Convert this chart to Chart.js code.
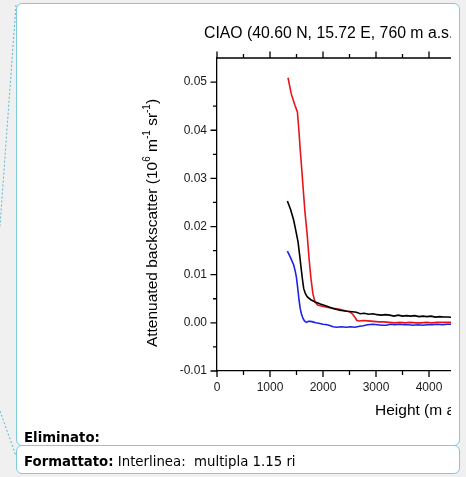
<!DOCTYPE html>
<html>
<head>
<meta charset="utf-8">
<script src="https://cdn.jsdelivr.net/npm/chart.js@4.4.1/dist/chart.umd.min.js"></script>
<style>
  html, body { margin: 0; padding: 0; background: #f0f0f0; width: 466px; height: 477px; overflow: hidden; }
  .balloon { position: absolute; box-sizing: border-box; border: 1.5px solid #7ccbdf; border-radius: 6px; background: #fff; }
  #box1 { left: 16px; top: 3px; width: 444px; height: 443px; }
  #box2 { left: 16px; top: 445px; width: 444px; height: 29px; }
  #clip { position: absolute; left: 17px; top: 4px; width: 434px; height: 440px; overflow: hidden; }
  #chart { position: absolute; left: -17px; top: -4px; }
  .note { position: absolute; left: 24px; font-family: "DejaVu Sans", Verdana, sans-serif; font-size: 13.3px; line-height: 16px; color: #000; white-space: nowrap; }
  #links { position: absolute; left: 0; top: 0; }
</style>
</head>
<body>
<svg id="links" width="466" height="477">
  <line x1="16" y1="5" x2="0" y2="226" stroke="#5ab6d2" stroke-width="1" stroke-dasharray="2 2"/>
  <line x1="0" y1="411" x2="16" y2="456" stroke="#5ab6d2" stroke-width="1" stroke-dasharray="2 2"/>
</svg>
<div id="box1" class="balloon"></div>
<div id="box2" class="balloon"></div>
<div id="clip"><canvas id="chart" width="700" height="440"></canvas></div>
<div class="note" style="top:430px"><b>Eliminato:</b></div>
<div class="note" style="top:454px"><b>Formattato:</b> Interlinea:&nbsp; multipla 1.15 ri</div>

<script>
// profiles: height (m a.s.l.) and attenuated backscatter
var blackHeight = [1328, 1390, 1447, 1490, 1529, 1560, 1592, 1615, 1636, 1670, 1705, 1770, 1843, 1950, 2064, 2190, 2315, 2450, 2550, 2630, 2700, 2780, 2860, 2943, 3020, 3100, 3180, 3258, 3340, 3420, 3500, 3574, 3650, 3730, 3810, 3887, 3960, 4040, 4120, 4200, 4280, 4360, 4450];
var blackValue  = [0.0253, 0.0235, 0.0213, 0.0190, 0.0168, 0.0140, 0.0109, 0.0088, 0.0071, 0.0060, 0.0054, 0.0048, 0.0044, 0.0039, 0.0035, 0.0030, 0.0026, 0.0024, 0.0023, 0.0022, 0.0019, 0.0020, 0.0018, 0.0019, 0.0017, 0.0016, 0.0017, 0.0016, 0.0014, 0.0016, 0.0014, 0.0015, 0.0014, 0.0015, 0.0013, 0.0014, 0.0013, 0.0014, 0.0012, 0.0013, 0.0012, 0.0012, 0.0011];

var blueHeight = [1328, 1390, 1447, 1475, 1498, 1520, 1548, 1570, 1592, 1623, 1650, 1687, 1720, 1760, 1811, 1860, 1920, 2000, 2080, 2140, 2189, 2260, 2340, 2441, 2520, 2600, 2692, 2760, 2840, 2943, 3030, 3110, 3196, 3270, 3350, 3447, 3530, 3620, 3700, 3790, 3887, 3970, 4060, 4150, 4250, 4350, 4450];
var blueValue  = [0.0149, 0.0135, 0.0120, 0.0108, 0.0095, 0.0075, 0.0047, 0.0030, 0.0019, 0.0009, 0.0004, 0.0001, 0.0003, 0.0003, 0.0002, 0.0000, -0.0001, -0.0003, -0.0004, -0.0006, -0.0008, -0.0009, -0.0008, -0.0009, -0.0008, -0.0009, -0.0007, -0.0006, -0.0004, -0.0003, -0.0004, -0.0005, -0.0005, -0.0003, -0.0004, -0.0003, -0.0004, -0.0004, -0.0005, -0.0004, -0.0005, -0.0004, -0.0004, -0.0003, -0.0004, -0.0003, -0.0003];

var redHeight = [1340, 1400, 1470, 1517, 1545, 1570, 1600, 1625, 1660, 1700, 1740, 1775, 1810, 1850, 1900, 2000, 2100, 2200, 2315, 2420, 2504, 2560, 2598, 2640, 2680, 2750, 2850, 2950, 3050, 3150, 3250, 3350, 3450, 3550, 3650, 3750, 3850, 3950, 4050, 4150, 4250, 4350, 4450];
var redValue  = [0.0509, 0.0476, 0.0452, 0.0438, 0.0400, 0.0360, 0.0318, 0.0280, 0.0230, 0.0185, 0.0130, 0.0090, 0.0060, 0.0043, 0.0037, 0.0034, 0.0032, 0.0030, 0.0028, 0.0025, 0.0023, 0.0018, 0.0012, 0.0005, 0.0004, 0.0005, 0.0004, 0.0003, 0.0002, 0.0002, 0.0001, 0.0000, 0.0001, 0.0000, 0.0001, 0.0000, 0.0000, 0.0001, 0.0000, 0.0001, 0.0001, 0.0001, 0.0001];

var chartTitle = 'CIAO (40.60 N, 15.72 E, 760 m a.s.l.)';
var xTitle = 'Height (m a.s.l.)';
// y title pieces, second value marks superscript
var yTitle = [['Attenuated backscatter (10', false], ['6', true], [' m', false], ['-1', true], [' sr', false], ['-1', true], [')', false]];

function toPoints(xs, ys) {
    var pts = [];
    for (var i = 0; i < xs.length; i++) {
        pts.push({x: xs[i], y: ys[i]});
    }
    return pts;
}

var FONT = '"Liberation Sans", Arial, sans-serif';
Chart.defaults.font.family = FONT;
Chart.defaults.color = '#1a1a1a';

// outward major + minor ticks on bottom, top and left axes, top frame line
var tickMarks = {
    id: 'tickMarks',
    afterDraw: function(chart) {
        var ctx = chart.ctx;
        var area = chart.chartArea;
        var x = chart.scales.x;
        var y = chart.scales.y;
        ctx.save();
        ctx.strokeStyle = '#000';
        ctx.lineWidth = 1.3;
        ctx.beginPath();
        ctx.moveTo(area.left - 0.6, area.top);
        ctx.lineTo(area.right, area.top);

        var xt = x.ticks.map(function(t) { return t.value; });
        for (var i = 0; i < xt.length; i++) {
            var px = x.getPixelForValue(xt[i]);
            ctx.moveTo(px, area.bottom); ctx.lineTo(px, area.bottom + 6);
            ctx.moveTo(px, area.top); ctx.lineTo(px, area.top - 6.5);
            if (i < xt.length - 1) {
                var mx = x.getPixelForValue((xt[i] + xt[i + 1]) / 2);
                ctx.moveTo(mx, area.bottom); ctx.lineTo(mx, area.bottom + 4);
                ctx.moveTo(mx, area.top); ctx.lineTo(mx, area.top - 4);
            }
        }
        var yt = y.ticks.map(function(t) { return t.value; });
        for (var j = 0; j < yt.length; j++) {
            var py = y.getPixelForValue(yt[j]);
            ctx.moveTo(area.left, py); ctx.lineTo(area.left - 6.5, py);
            if (j < yt.length - 1) {
                var my = y.getPixelForValue((yt[j] + yt[j + 1]) / 2);
                ctx.moveTo(area.left, my); ctx.lineTo(area.left - 4, my);
            }
        }
        ctx.stroke();
        ctx.restore();
    }
};

// titles placed like in the source figure
var titles = {
    id: 'titles',
    afterDraw: function(chart) {
        var ctx = chart.ctx;
        var area = chart.chartArea;
        ctx.save();
        ctx.fillStyle = '#000';
        ctx.textBaseline = 'alphabetic';
        ctx.textAlign = 'left';
        ctx.font = '15.8px ' + FONT;
        ctx.fillText(chartTitle, area.left - 13, 37.5);

        ctx.font = '15.5px ' + FONT;
        ctx.fillText(xTitle, area.left + 158, 415);

        // rotated y title with superscripts
        var big = '15.5px ' + FONT, small = '10px ' + FONT;
        var total = 0;
        yTitle.forEach(function(p) {
            ctx.font = p[1] ? small : big;
            total += ctx.measureText(p[0]).width;
        });
        ctx.translate(156.5, 223);
        ctx.rotate(-Math.PI / 2);
        var cx = -total / 2;
        yTitle.forEach(function(p) {
            ctx.font = p[1] ? small : big;
            ctx.fillText(p[0], cx, p[1] ? -7 : 0);
            cx += ctx.measureText(p[0]).width;
        });
        ctx.restore();
    }
};

var ctx = document.getElementById('chart');

var myChart = new Chart(ctx, {
    type: 'line',
    data: {
        datasets: [
            { data: toPoints(blackHeight, blackValue), borderColor: '#000000' },
            { data: toPoints(blueHeight, blueValue), borderColor: '#1c22e6' },
            { data: toPoints(redHeight, redValue), borderColor: '#e8141c' }
        ]
    },
    options: {
        responsive: false,
        animation: false,
        layout: { padding: { left: 0, top: 58, right: 59, bottom: 19 } },
        elements: {
            point: { radius: 0 },
            line: { borderWidth: 1.6, tension: 0 }
        },
        plugins: {
            legend: { display: false },
            tooltip: { enabled: false }
        },
        scales: {
            x: {
                type: 'linear',
                min: 0,
                max: 8000,
                grid: { display: false, drawTicks: true, tickLength: 6 },
                border: { display: true, color: '#000', width: 1.3 },
                ticks: {
                    stepSize: 1000,
                    padding: 3,
                    maxRotation: 0,
                    autoSkip: false,
                    font: { size: 12 },
                    callback: function(v) { return String(v); }
                },
                afterFit: function(scale) { scale.height = 50; }
            },
            y: {
                type: 'linear',
                min: -0.01,
                max: 0.055,
                grid: { display: false, drawTicks: true, tickLength: 7 },
                border: { display: true, color: '#000', width: 1.3 },
                ticks: {
                    stepSize: 0.01,
                    includeBounds: false,
                    padding: 3,
                    font: { size: 12 },
                    callback: function(v) {
                        if (Math.abs(v) < 1e-9) return '0.00';
                        return v.toFixed(2);
                    }
                },
                afterFit: function(scale) { scale.width = 217; }
            }
        }
    },
    plugins: [tickMarks, titles]
});
</script>
</body>
</html>
